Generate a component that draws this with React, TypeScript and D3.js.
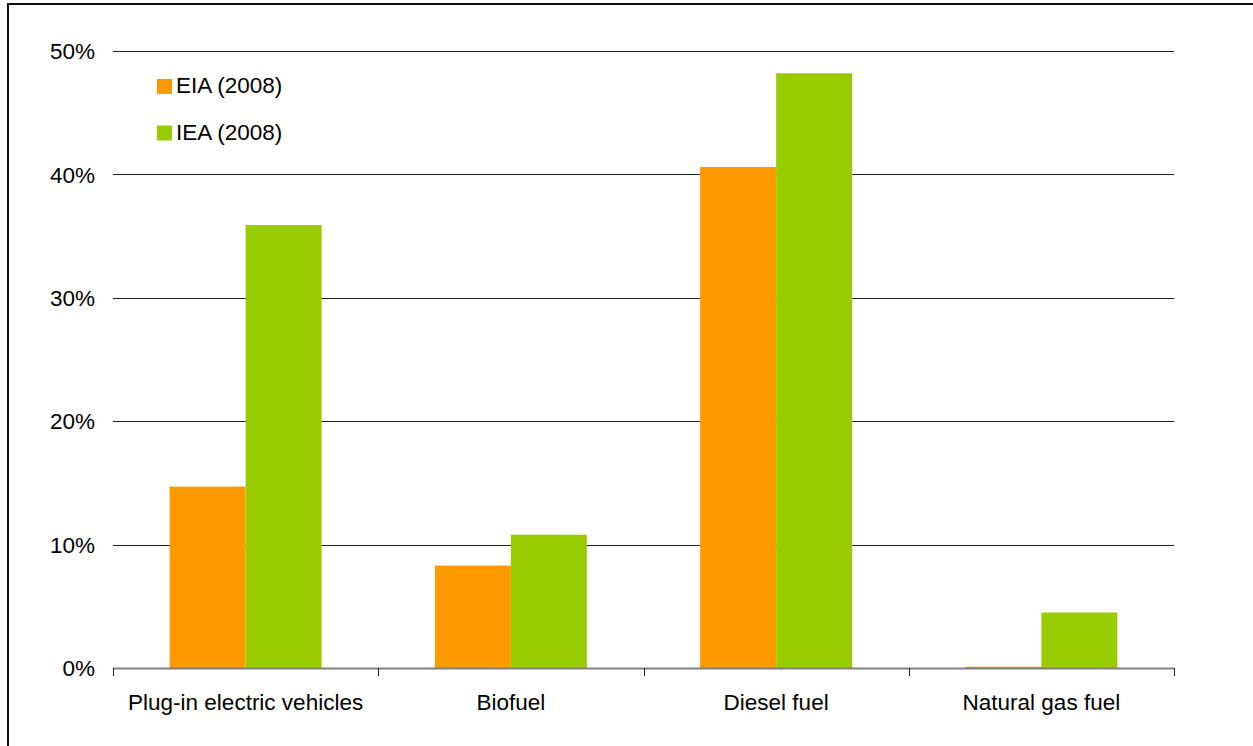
import * as d3 from 'd3'
import { useEffect, useRef } from 'react'

const categories = ['Plug-in electric vehicles', 'Biofuel', 'Diesel fuel', 'Natural gas fuel']
const seriesNames = ['EIA (2008)', 'IEA (2008)']
const eiaValues = [14.7, 8.3, 40.6, 0.1]
const ieaValues = [35.9, 10.8, 48.2, 4.5]
const yTicks = [0, 10, 20, 30, 40, 50]
const colors = ['#FF9900', '#99CC00']

const W = 1253
const H = 746

const App = () => {
    const ref = useRef<SVGSVGElement>(null)

    useEffect(() => {
        const svg = d3.select(ref.current)
        svg.selectAll('*').remove()

        const margin = { left: 113, right: W - 1174, top: 51, bottom: H - 668 }
        const font = 'Liberation Sans, Arial, sans-serif'
        const fontSize = 22.5

        // cornice in alto e a sinistra
        svg.append('line')
            .attr('x1', 8).attr('x2', W).attr('y1', 4).attr('y2', 4)
            .attr('stroke', '#111').attr('stroke-width', 2)
        svg.append('line')
            .attr('x1', 8).attr('x2', 8).attr('y1', 3).attr('y2', H)
            .attr('stroke', '#111').attr('stroke-width', 2)

        const x0 = d3.scaleBand<string>()
            .domain(categories)
            .range([margin.left, W - margin.right])
            .paddingInner(0.427)
            .paddingOuter(0.2135)

        const x1 = d3.scaleBand<string>()
            .domain(seriesNames)
            .range([0, x0.bandwidth()])
            .padding(0)

        const y = d3.scaleLinear()
            .domain([0, 50])
            .range([H - margin.bottom, margin.top])

        // griglia orizzontale
        svg.append('g')
            .selectAll('line')
            .data(yTicks.filter(t => t > 0))
            .enter()
            .append('line')
            .attr('x1', margin.left)
            .attr('x2', W - margin.right)
            .attr('y1', d => Math.round(y(d)) + 0.5)
            .attr('y2', d => Math.round(y(d)) + 0.5)
            .attr('stroke', '#222')
            .attr('stroke-width', 1)

        // etichette asse y
        svg.append('g')
            .selectAll('text')
            .data(yTicks)
            .enter()
            .append('text')
            .attr('x', 95)
            .attr('y', d => y(d))
            .attr('dy', '0.36em')
            .attr('text-anchor', 'end')
            .attr('font-family', font)
            .attr('font-size', fontSize)
            .attr('fill', '#000')
            .text(d => `${d}%`)

        // barre
        const series = [eiaValues, ieaValues]
        series.forEach((values, si) => {
            svg.append('g')
                .selectAll('rect')
                .data(values)
                .enter()
                .append('rect')
                .attr('x', (_, i) => (x0(categories[i]) ?? 0) + (x1(seriesNames[si]) ?? 0))
                .attr('y', d => y(d))
                .attr('width', x1.bandwidth())
                .attr('height', d => y(0) - y(d))
                .attr('fill', colors[si])
        })

        // asse x
        svg.append('line')
            .attr('x1', margin.left)
            .attr('x2', W - margin.right)
            .attr('y1', 668.5)
            .attr('y2', 668.5)
            .attr('stroke', '#808080')
            .attr('stroke-width', 2)

        const step = x0.step()
        const tickXs = d3.range(categories.length + 1).map(i => margin.left + i * step)
        svg.append('g')
            .selectAll('line')
            .data(tickXs)
            .enter()
            .append('line')
            .attr('x1', d => Math.round(d) + 0.5)
            .attr('x2', d => Math.round(d) + 0.5)
            .attr('y1', 668)
            .attr('y2', 676)
            .attr('stroke', '#222')
            .attr('stroke-width', 1)

        svg.append('g')
            .selectAll('text')
            .data(categories)
            .enter()
            .append('text')
            .attr('x', d => (x0(d) ?? 0) + x0.bandwidth() / 2)
            .attr('y', 710)
            .attr('text-anchor', 'middle')
            .attr('font-family', font)
            .attr('font-size', fontSize)
            .attr('fill', '#000')
            .text(d => d)

        // legenda
        const legend = svg.append('g')
        seriesNames.forEach((name, i) => {
            legend.append('rect')
                .attr('x', 157)
                .attr('y', 79 + i * 46.5)
                .attr('width', 15)
                .attr('height', 15)
                .attr('fill', colors[i])
            legend.append('text')
                .attr('x', 176)
                .attr('y', 93 + i * 46.5)
                .attr('font-family', font)
                .attr('font-size', fontSize)
                .attr('fill', '#000')
                .text(name)
        })
    }, [])

    return (
        <svg
            ref={ref}
            width={W}
            height={H}
            style={{ position: 'absolute', left: 0, top: 0, background: '#fff' }}
        />
    )
}

export default App
